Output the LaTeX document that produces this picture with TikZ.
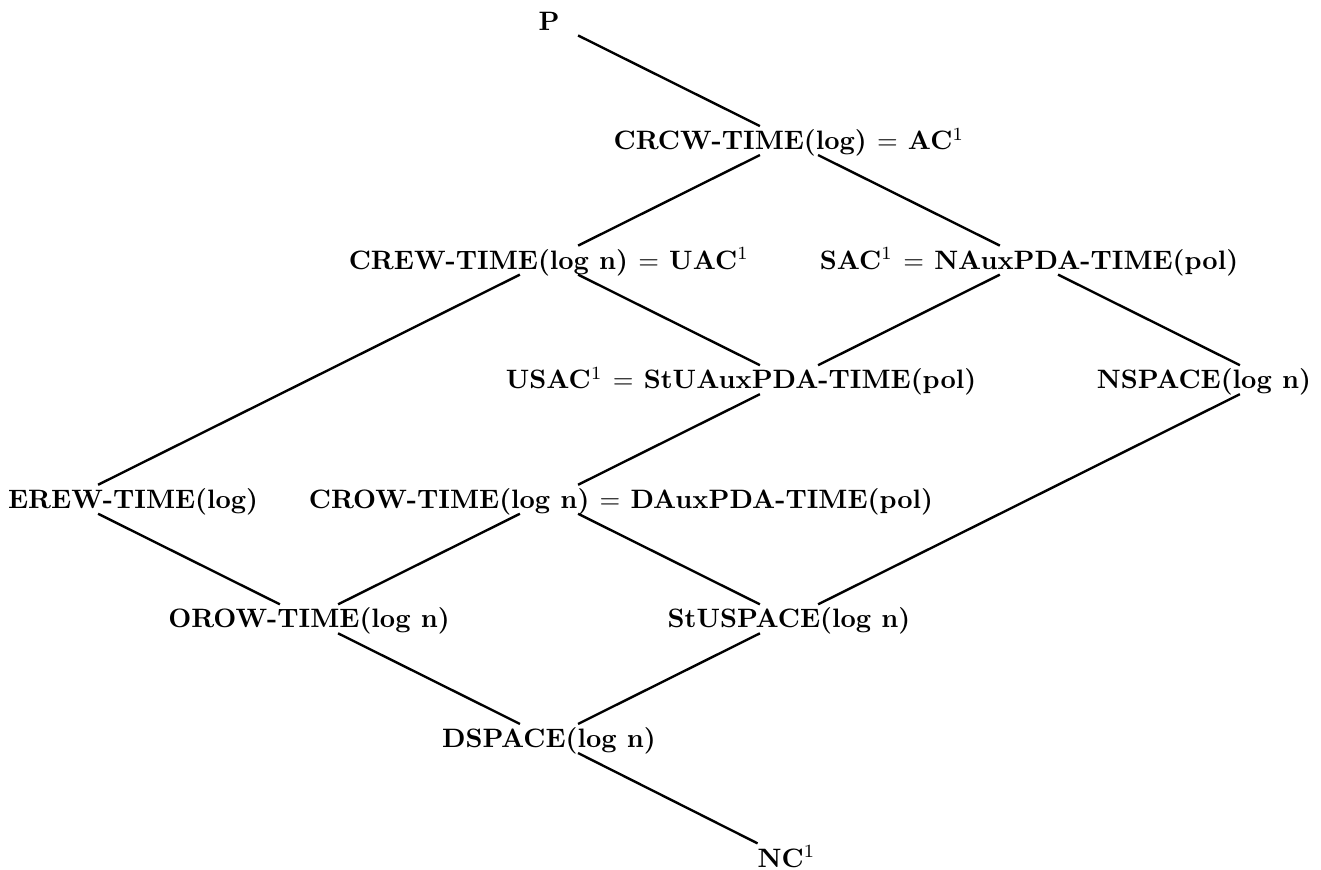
\documentclass[tikz,border=0pt]{standalone}
\usepackage{amsmath,amssymb}
\usepackage{xcolor}
\tikzset{
  cls/.style={font=\bfseries, inner sep=0pt, text height=9.36pt, text depth=2.5pt},
  incl/.style={line width=0.9pt, shorten <=12.2pt, shorten >=12.2pt}
}

\begin{document}
\begin{tikzpicture}[x=90.14pt, y=44.91pt]
\useasboundingbox (-0.2875,-0.1004) rectangle (5.2167,7.1756);
% classes
\node[cls] (p) at (2,7) {P};
\node[cls] (crcw) at (3,6) {CRCW-TIME(log) $=$ AC$^1$};
\node[cls] (crew) at (2,5) {CREW-TIME(log n) $=$ UAC$^1$};
\node[cls] (sac) at (4,5) {SAC$^1$ $=$ NAuxPDA-TIME(pol)};
\coordinate (usac-pt) at (3,4);
\node[cls] (usac) at (2.8,4) {USAC$^1$ $=$ StUAuxPDA-TIME(pol)};
\coordinate (nspace-pt) at (5,4);
\node[cls] (nspace) at (4.729,4) {NSPACE(log n)};
\coordinate (erew-pt) at (0,3);
\node[cls] (erew) at (0.267,3) {EREW-TIME(log)};
\coordinate (crow-pt) at (2,3);
\node[cls] (crow) at (2.3,3) {CROW-TIME(log n) $=$ DAuxPDA-TIME(pol)};
\node[cls] (orow) at (1,2) {OROW-TIME(log n)};
\node[cls] (stuspace) at (3,2) {StUSPACE(log n)};
\node[cls] (dspace) at (2,1) {DSPACE(log n)};
\node[cls] (nc) at (2.99,0) {NC$^1$};
% inclusions
\draw[incl] (p.center) -- (crcw.center);
\draw[incl] (crcw.center) -- (crew.center);
\draw[incl] (crcw.center) -- (sac.center);
\draw[incl] (crew.center) -- (usac-pt);
\draw[incl] (sac.center) -- (usac-pt);
\draw[incl] (crew.center) -- (erew-pt);
\draw[incl] (sac.center) -- (nspace-pt);
\draw[incl] (usac-pt) -- (crow-pt);
\draw[incl] (nspace-pt) -- (stuspace.center);
\draw[incl] (erew-pt) -- (orow.center);
\draw[incl] (crow-pt) -- (orow.center);
\draw[incl] (crow-pt) -- (stuspace.center);
\draw[incl] (orow.center) -- (dspace.center);
\draw[incl] (stuspace.center) -- (dspace.center);
\draw[incl] (dspace.center) -- (nc.center);
\end{tikzpicture}
\end{document}
